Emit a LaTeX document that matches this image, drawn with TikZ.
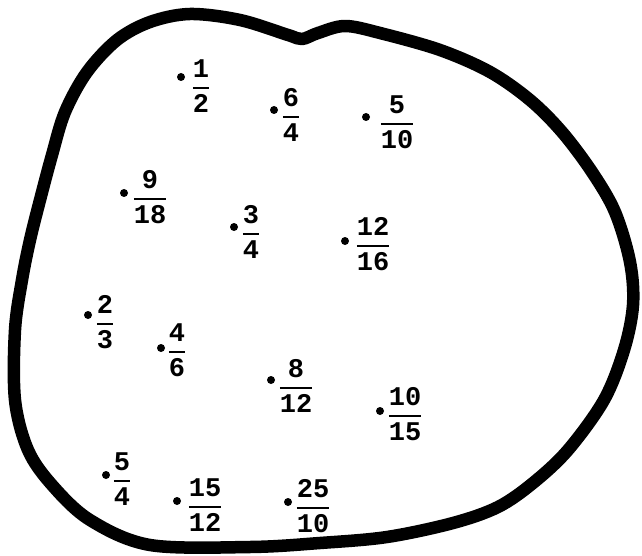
\documentclass[tikz,border=0pt]{standalone}
\usepackage{amsmath}
\usepackage{fontspec}
\newfontfamily\tf{Liberation Mono}[BoldFont={Liberation Mono Bold}]
\newcommand\fr[2]{$\genfrac{}{}{1.8pt}{0}{\hbox{\tf\bfseries #1}}{\hbox{\tf\bfseries #2}}$}
\tikzset{
  frac/.style={inner sep=0pt, font=\fontsize{27}{29}\selectfont},
  dotmark/.style={fill=black, circle, inner sep=0pt, minimum size=8pt},
  blob/.style={line width=12.5pt, line join=round}
}
\begin{document}
\begin{tikzpicture}[x=1pt,y=-1pt]
\useasboundingbox (0,0) rectangle (642,556);
\draw[blob] plot[smooth cycle, tension=0.55] coordinates {
(190,14) (240,20) (288,35) (302,39) (318,33) (345,26) (380,33) (440,50) (490,72)
(530,100) (562,132) (592,172) (615,212) (630,262) (633,305) (624,350) (604,400)
(568,450) (533,483) (498,507) (453,523) (387,537) (320,543) (250,547) (150,545)
(90,520) (52,485) (28,450) (15,400) (15,330) (22,280) (30,240) (40,200) (52,155)
(65,112) (87,72) (117,40) (150,22)};
% dots and fractions
\node[dotmark] (d1) at (181,77) {};   \node[frac] (f1) at (201,86) {\fr{1}{2}};
\node[dotmark] (d2) at (274,110) {};  \node[frac] (f2) at (291,115) {\fr{6}{4}};
\node[dotmark] (d3) at (366,117) {};  \node[frac] (f3) at (397,122) {\fr{5}{10}};
\node[dotmark] (d4) at (124,193) {};  \node[frac] (f4) at (150,197) {\fr{9}{18}};
\node[dotmark] (d5) at (234,227) {};  \node[frac] (f5) at (251,232) {\fr{3}{4}};
\node[dotmark] (d6) at (345,241) {};  \node[frac] (f6) at (373,244) {\fr{12}{16}};
\node[dotmark] (d7) at (88,315) {};   \node[frac] (f7) at (105,322) {\fr{2}{3}};
\node[dotmark] (d8) at (161,348) {};  \node[frac] (f8) at (177,350) {\fr{4}{6}};
\node[dotmark] (d9) at (271,380) {};  \node[frac] (f9) at (296,386) {\fr{8}{12}};
\node[dotmark] (d10) at (380,411) {}; \node[frac] (f10) at (405,414) {\fr{10}{15}};
\node[dotmark] (d11) at (106,475) {}; \node[frac] (f11) at (122,479) {\fr{5}{4}};
\node[dotmark] (d12) at (177,501) {}; \node[frac] (f12) at (205,505) {\fr{15}{12}};
\node[dotmark] (d13) at (288,502) {}; \node[frac] (f13) at (313,506) {\fr{25}{10}};
\end{tikzpicture}
\end{document}
